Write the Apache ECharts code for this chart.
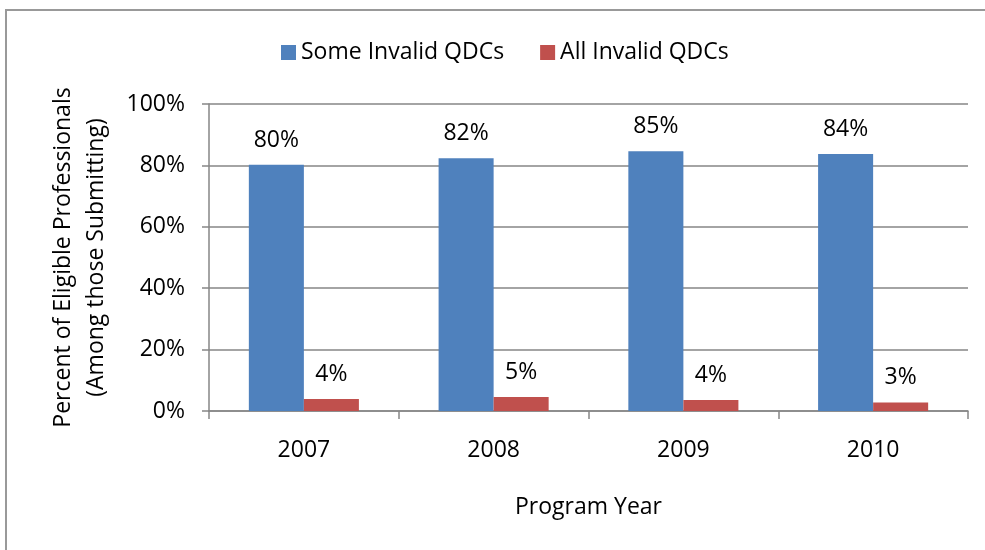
<!DOCTYPE html>
<html>
<head>
<meta charset="utf-8">
<script src="https://cdn.jsdelivr.net/npm/echarts@6/dist/echarts.min.js"></script>
<style>
  html, body { margin: 0; padding: 0; background: #fff; }
  #chart { width: 985px; height: 550px; }
</style>
</head>
<body>
<div id="chart"></div>
<script>
const years = ['2007', '2008', '2009', '2010']
const someInvalid = [80.2, 82.3, 84.6, 83.7]
const allInvalid = [3.9, 4.6, 3.6, 2.8]
const yTicks = { min: 0, max: 100, interval: 20 }

const chartInstance = echarts.init(document.getElementById('chart'))

const pctLabel = {
  show: true,
  position: 'top',
  distance: 13,
  fontSize: 23,
  color: '#000',
  formatter: (p) => Math.round(p.value) + '%'
}

const option = {
  animation: false,
  textStyle: { fontFamily: 'Open Sans' },
  graphic: [
    {
      type: 'rect',
      shape: { x: 6, y: 10, width: 1000, height: 600 },
      style: { fill: 'none', stroke: '#999', lineWidth: 2 }
    }
  ],
  legend: {
    data: ['Some Invalid QDCs', 'All Invalid QDCs'],
    left: 276,
    top: 36,
    itemWidth: 15,
    itemHeight: 15,
    itemGap: 36,
    icon: 'rect',
    textStyle: { fontSize: 23, color: '#000' }
  },
  grid: {
    left: 209,
    right: 17,
    top: 104,
    bottom: 139,
    containLabel: false
  },
  xAxis: {
    type: 'category',
    data: years,
    name: 'Program Year',
    nameLocation: 'middle',
    nameGap: 85,
    nameTextStyle: { fontSize: 23, color: '#000' },
    axisLine: { lineStyle: { color: '#868686', width: 1.5 } },
    axisTick: { show: true, length: 8, lineStyle: { color: '#868686', width: 1.5 } },
    axisLabel: { fontSize: 23, color: '#000', margin: 28 }
  },
  yAxis: {
    type: 'value',
    min: yTicks.min,
    max: yTicks.max,
    interval: yTicks.interval,
    name: 'Percent of Eligible Professionals\n(Among those Submitting)',
    nameLocation: 'middle',
    nameRotate: 90,
    nameGap: 96,
    nameTextStyle: { fontSize: 23, color: '#000', lineHeight: 33 },
    axisLine: { show: true, lineStyle: { color: '#868686', width: 1.5 } },
    axisTick: { show: true, length: 7, lineStyle: { color: '#868686', width: 1.5 } },
    axisLabel: { fontSize: 23, color: '#000', margin: 24, formatter: '{value}%' },
    splitLine: { lineStyle: { color: '#868686', width: 1.5 } }
  },
  series: [
    {
      name: 'Some Invalid QDCs',
      type: 'bar',
      barGap: '0%',
      barCategoryGap: '42%',
      itemStyle: { color: '#4F81BD' },
      label: pctLabel,
      data: someInvalid
    },
    {
      name: 'All Invalid QDCs',
      type: 'bar',
      barGap: '0%',
      barCategoryGap: '42%',
      itemStyle: { color: '#C0504D' },
      label: pctLabel,
      data: allInvalid
    }
  ]
}

chartInstance.setOption(option)
</script>
</body>
</html>
